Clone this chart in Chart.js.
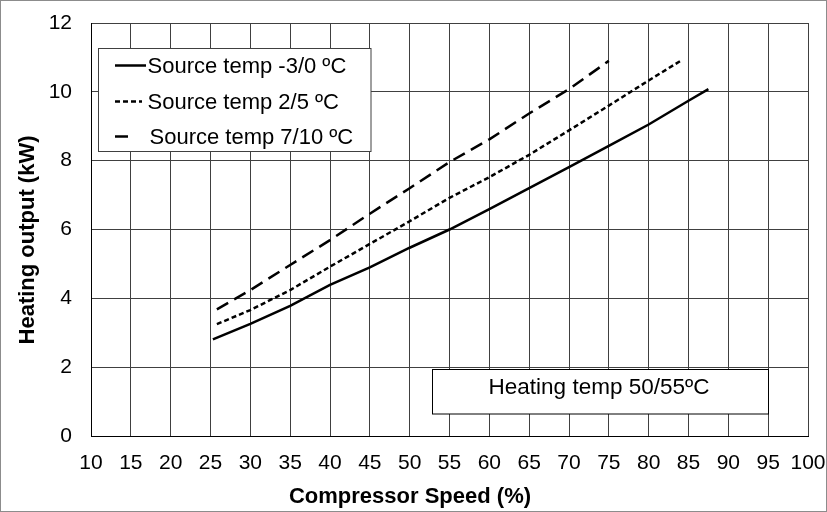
<!DOCTYPE html>
<html>
<head>
<meta charset="utf-8">
<script src="https://cdn.jsdelivr.net/npm/chart.js@4.4.1/dist/chart.umd.min.js"></script>
<style>
html,body{margin:0;padding:0;background:#fff;}
#wrap{width:827px;height:512px;position:relative;}
</style>
</head>
<body>
<div id="wrap"><canvas id="c" width="827" height="512"></canvas></div>
<script>
// ---- data ----
const seriesNames = ["Source temp -3/0 ºC", "Source temp 2/5 ºC", "Source temp 7/10 ºC"];
const xSolid  = [25.3, 30, 35, 40, 45, 50, 55, 60, 65, 70, 75, 80, 85, 87.5];
const ySolid  = [2.81, 3.26, 3.78, 4.39, 4.90, 5.47, 6.00, 6.59, 7.20, 7.81, 8.43, 9.05, 9.74, 10.08];
const xDotted = [25.8, 30, 35, 40, 45, 50, 55, 60, 65, 70, 75, 80, 84];
const yDotted = [3.25, 3.66, 4.24, 4.92, 5.58, 6.24, 6.92, 7.52, 8.17, 8.88, 9.60, 10.33, 10.90];
const xDashed = [25.8, 30, 35, 40, 45, 50, 55, 60, 65, 70, 75];
const yDashed = [3.68, 4.24, 4.97, 5.69, 6.46, 7.20, 7.96, 8.62, 9.37, 10.08, 10.90];
const xTitle = "Compressor Speed (%)";
const yTitle = "Heating output (kW)";
const noteText = "Heating temp 50/55ºC";
const xMin = 10, xMax = 100, xStep = 5;
const yMin = 0, yMax = 12, yStep = 2;

function pts(xs, ys){ return xs.map((x,i)=>({x:x, y:ys[i]})); }
const dashes = [[], [5,3], [13,7]];
const LW = 2.5;

const FONT = "'Liberation Sans', Arial, sans-serif";

const overlay = {
  id: 'overlay',
  afterDraw(chart){
    const ctx = chart.ctx;
    ctx.save();
    // outer frame
    ctx.strokeStyle = '#8c8c8c';
    ctx.lineWidth = 1;
    ctx.strokeRect(0.5, 0.5, 826, 511);
    // axis titles
    ctx.fillStyle = '#000';
    ctx.font = "bold 22px " + FONT;
    ctx.textAlign = 'center';
    ctx.textBaseline = 'middle';
    ctx.fillText(xTitle, 410, 497);
    ctx.save();
    ctx.translate(28, 240);
    ctx.rotate(-Math.PI/2);
    ctx.fillText(yTitle, 0, 0);
    ctx.restore();
    // legend box
    ctx.fillStyle = '#fff';
    ctx.fillRect(98.5, 48.5, 272.5, 103);
    ctx.strokeStyle = '#404040';
    ctx.strokeRect(98.5, 48.5, 272.5, 103);
    const rows = [65.5, 101.5, 136.5];
    const ends = [146, 142, 134];
    const tx = [147.5, 147.5, 149.5];
    ctx.font = "22px " + FONT;
    ctx.textBaseline = 'middle';
    ctx.textAlign = 'left';
    for (let i=0;i<3;i++){
      ctx.strokeStyle = '#000';
      ctx.lineWidth = LW;
      ctx.setLineDash(dashes[i]);
      ctx.beginPath();
      ctx.moveTo(115, rows[i]);
      ctx.lineTo(ends[i], rows[i]);
      ctx.stroke();
      ctx.setLineDash([]);
      ctx.fillStyle = '#000';
      ctx.fillText(seriesNames[i], tx[i], rows[i]+1);
    }
    // note box
    ctx.fillStyle = '#fff';
    ctx.fillRect(432.5, 369.5, 336, 44.5);
    ctx.strokeStyle = '#000';
    ctx.lineWidth = 1;
    ctx.strokeRect(432.5, 369.5, 336, 44.5);
    ctx.fillStyle = '#000';
    ctx.font = "22.5px " + FONT;
    ctx.textAlign = 'center';
    ctx.fillText(noteText, 599, 388);
    ctx.restore();
  }
};

new Chart(document.getElementById('c'), {
  type: 'scatter',
  data: {
    datasets: [
      {label: seriesNames[0], data: pts(xSolid, ySolid), showLine: true, borderColor: '#000', borderWidth: LW, pointRadius: 0, borderDash: dashes[0], tension: 0},
      {label: seriesNames[1], data: pts(xDotted, yDotted), showLine: true, borderColor: '#000', borderWidth: LW, pointRadius: 0, borderDash: dashes[1], tension: 0},
      {label: seriesNames[2], data: pts(xDashed, yDashed), showLine: true, borderColor: '#000', borderWidth: LW, pointRadius: 0, borderDash: dashes[2], tension: 0}
    ]
  },
  options: {
    responsive: false,
    animation: false,
    devicePixelRatio: 1,
    layout: {padding: {left: 0, top: 23, right: 19, bottom: 0}},
    plugins: {legend: {display: false}, tooltip: {enabled: false}},
    scales: {
      x: {
        type: 'linear', min: xMin, max: xMax,
        ticks: {stepSize: xStep, color: '#000', font: {family: FONT, size: 21}, padding: 15, maxRotation: 0, autoSkip: false},
        grid: {color: '#404040', lineWidth: 1, drawTicks: false},
        border: {color: '#000', width: 1},
        title: {display: false, text: xTitle},
        afterFit(s){ s.height = 76; s.paddingLeft = 0; s.paddingRight = 0; }
      },
      y: {
        type: 'linear', min: yMin, max: yMax,
        ticks: {stepSize: yStep, color: '#000', font: {family: FONT, size: 21}, padding: 19},
        grid: {color: '#404040', lineWidth: 1, drawTicks: false},
        border: {color: '#000', width: 1},
        title: {display: false, text: yTitle},
        afterFit(s){ s.width = 91; s.paddingTop = 0; s.paddingBottom = 0; }
      }
    }
  },
  plugins: [overlay]
});
</script>
</body>
</html>
